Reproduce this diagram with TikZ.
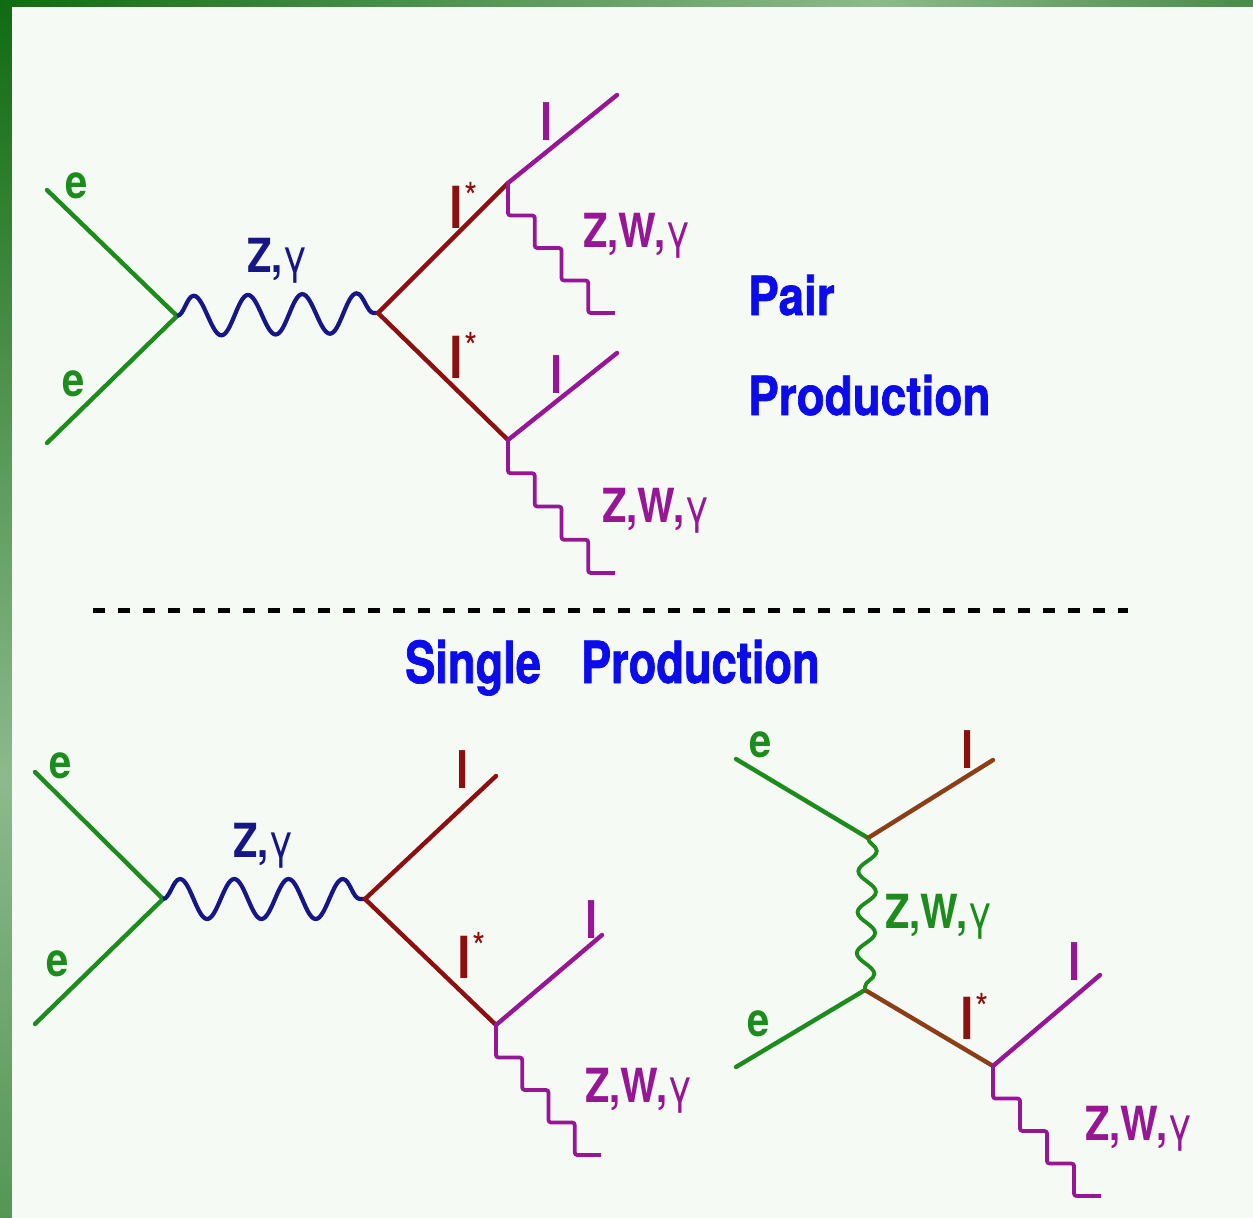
\documentclass[tikz,border=0pt]{standalone}
\usepackage{fontspec}
\usetikzlibrary{decorations.pathmorphing,calc}
\newfontfamily\hvn[FakeStretch=0.85]{TeX Gyre Heros}
\newfontfamily\hvt[FakeStretch=0.85,BoldFeatures={FakeBold=1.2}]{TeX Gyre Heros}
\newfontfamily\hvnn[FakeStretch=0.78,BoldFeatures={FakeBold=1.2}]{TeX Gyre Heros}
\definecolor{pagebg}{RGB}{245,250,245}
\definecolor{bordD}{RGB}{16,108,16}
\definecolor{bordL}{RGB}{140,186,140}
\definecolor{bordR}{RGB}{72,140,72}
\definecolor{bordB}{RGB}{84,150,84}
\definecolor{eGreen}{RGB}{28,140,28}
\definecolor{zNavy}{RGB}{22,22,135}
\definecolor{lRed}{RGB}{140,16,16}
\definecolor{lBrown}{RGB}{140,62,22}
\definecolor{lPurp}{RGB}{150,22,150}
\definecolor{tBlue}{RGB}{12,12,235}
\pgfdeclarehorizontalshading{bandtop}{100bp}{color(0bp)=(bordD); color(25bp)=(bordD);
  color(60bp)=(bordL); color(75bp)=(bordR); color(100bp)=(bordR)}
\pgfdeclareverticalshading{bandleft}{100bp}{color(0bp)=(bordB); color(25bp)=(bordB);
  color(43bp)=(bordL); color(75bp)=(bordD); color(100bp)=(bordD)}
\tikzset{
  fer/.style   ={line width=4.4pt, line cap=round},
  gam/.style   ={line width=4.2pt, decorate,
                 decoration={snake, segment length=54.3pt, amplitude=20pt}},
  gamT/.style  ={line width=3.8pt, decorate,
                 decoration={snake, segment length=41pt, amplitude=9pt}},
  bos/.style   ={line width=3.8pt, line join=round, rounded corners=2.5pt,
                 to path={let \p1=($(\tikztotarget)-(\tikztostart)$) in
                   -- ++(0,\y1/4) -- ++(\x1/4,0) -- ++(0,\y1/4) -- ++(\x1/4,0)
                   -- ++(0,\y1/4) -- ++(\x1/4,0) -- ++(0,\y1/4) -- (\tikztotarget)}},
  lab/.style   ={anchor=base west, inner sep=0pt,
                 font=\hvn\bfseries\fontsize{47}{47}\selectfont},
  labl/.style  ={anchor=base west, inner sep=0pt,
                 font=\hvn\bfseries\fontsize{52}{52}\selectfont},
  labs/.style  ={anchor=base west, inner sep=0pt,
                 font=\hvn\bfseries\fontsize{58}{58}\selectfont},
  capt/.style  ={anchor=base west, inner sep=0pt, text=tBlue,
                 font=\hvt\bfseries\fontsize{54}{54}\selectfont},
  captS/.style ={anchor=base west, inner sep=0pt, text=tBlue,
                 font=\hvnn\bfseries\fontsize{58}{58}\selectfont},
  sep/.style   ={line width=5pt, dash pattern=on 12pt off 13pt},
}
\newcommand{\lst}{l\kern2pt\raisebox{17pt}{\mdseries\fontsize{40}{40}\selectfont *}}
\newcommand{\bosn}{Z,W,{\mdseries γ}}
\begin{document}
\begin{tikzpicture}[x=1pt,y=-1pt]
  \useasboundingbox (0,0) rectangle (1253,1218);
  \fill[pagebg] (0,0) rectangle (1253,1218);
  \shade[shading=bandleft] (0,0) rectangle (12,1218);
  \shade[shading=bandtop] (0,0) rectangle (1253,7);
  \draw[pagebg!40!white, line width=1pt] (12.5,1218) -- (12.5,7.5) -- (1253,7.5);

  % pair production
  \coordinate (vA) at (177,316);
  \coordinate (vB) at (378,313);
  \coordinate (vC) at (508,183);
  \coordinate (vD) at (508,440);
  \coordinate (eA1) at (47,190);
  \coordinate (eA2) at (47,443);
  \coordinate (lC) at (617,95);
  \coordinate (lD) at (617,353);
  \coordinate (wC) at (615,313);
  \coordinate (wD) at (615,573);
  \draw[fer, eGreen] (eA1) -- (vA) -- (eA2);
  \draw[gam, zNavy] (vA) -- (vB);
  \draw[fer, lRed] (vC) -- (vB) -- (vD);
  \draw[fer, lPurp] (vC) -- (lC);
  \draw[fer, lPurp] (vD) -- (lD);
  \draw[bos, lPurp] (vC) to (wC);
  \draw[bos, lPurp] (vD) to (wD);
  \node[lab, eGreen] (tA1) at (65,198) {e};
  \node[lab, eGreen] (tA2) at (62,396) {e};
  \node[lab, zNavy] (tAB) at (247,272) {Z,{\mdseries γ}};
  \node[labs, lRed] (tBC) at (449,228) {\lst};
  \node[labs, lRed] (tBD) at (449,378) {\lst};
  \node[labl, lPurp] (tC) at (540,140) {l};
  \node[labl, lPurp] (tD) at (550,393) {l};
  \node[lab, lPurp] (tWC) at (583,247) {\bosn};
  \node[lab, lPurp] (tWD) at (602,522) {\bosn};
  \node[capt] (tPair) at (748,315) {Pair};
  \node[capt] (tProd) at (748,415) {Production};

  \coordinate (sepL) at (93,610);
  \coordinate (sepR) at (1128,610);
  \draw[sep] (sepL) -- (sepR);
  \node[captS] (tSingle) at (405,683) {Single\hspace{40pt}Production};

  % single production, s-channel
  \coordinate (vE) at (163,899);
  \coordinate (vF) at (365,899);
  \coordinate (vG) at (496,1025);
  \coordinate (eE1) at (35,772);
  \coordinate (eE2) at (35,1024);
  \coordinate (lF) at (496,776);
  \coordinate (lG) at (602,935);
  \coordinate (wG) at (601,1155);
  \draw[fer, eGreen] (eE1) -- (vE) -- (eE2);
  \draw[gam, zNavy] (vE) -- (vF);
  \draw[fer, lRed] (lF) -- (vF) -- (vG);
  \draw[fer, lPurp] (vG) -- (lG);
  \draw[bos, lPurp] (vG) to (wG);
  \node[lab, eGreen] (tE1) at (49,778) {e};
  \node[lab, eGreen] (tE2) at (46,976) {e};
  \node[lab, zNavy] (tEF) at (233,857) {Z,{\mdseries γ}};
  \node[labl, lRed] (tF) at (456,788) {l};
  \node[labs, lRed] (tFG) at (457,978) {\lst};
  \node[labl, lPurp] (tG) at (585,938) {l};
  \node[lab, lPurp] (tWG) at (585,1102) {\bosn};

  % single production, t-channel
  \coordinate (vH) at (868,838);
  \coordinate (vI) at (865,990);
  \coordinate (vJ) at (993,1066);
  \coordinate (eH) at (736,759);
  \coordinate (eI) at (736,1067);
  \coordinate (lH) at (993,760);
  \coordinate (lJ) at (1100,975);
  \coordinate (wJ) at (1101,1196);
  \draw[fer, eGreen] (eH) -- (vH);
  \draw[fer, eGreen] (eI) -- (vI);
  \draw[fer, lBrown] (vH) -- (lH);
  \draw[fer, lBrown] (vI) -- (vJ);
  \draw[gamT, eGreen] (vH) -- (vI);
  \draw[fer, lPurp] (vJ) -- (lJ);
  \draw[bos, lPurp] (vJ) to (wJ);
  \node[lab, eGreen] (tH) at (749,757) {e};
  \node[lab, eGreen] (tI) at (747,1036) {e};
  \node[labl, lRed] (tlH) at (961,768) {l};
  \node[lab, eGreen] (tHI) at (885,928) {\bosn};
  \node[labs, lRed] (tIJ) at (960,1039) {\lst};
  \node[labl, lPurp] (tJ) at (1068,980) {l};
  \node[lab, lPurp] (tWJ) at (1085,1140) {\bosn};
\end{tikzpicture}
\end{document}
